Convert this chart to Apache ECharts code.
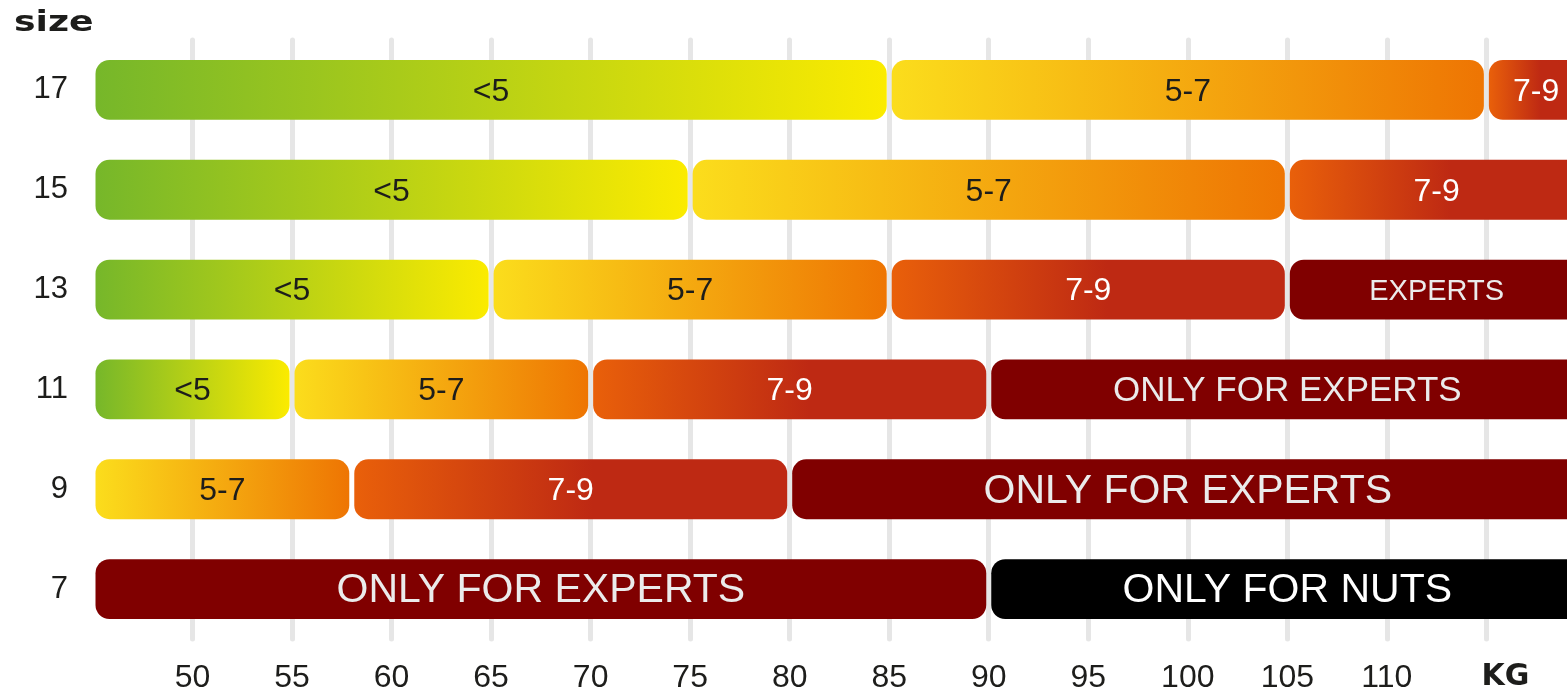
<!DOCTYPE html>
<html>
<head>
<meta charset="utf-8">
<script src="https://cdn.jsdelivr.net/npm/echarts@6/dist/echarts.min.js"></script>
<style>
html,body{margin:0;padding:0;background:#fff;}
#chart{width:1567px;height:694px;}
</style>
</head>
<body>
<div id="chart"></div>
<script>
// ---- data ----
const sizes = ['7', '9', '11', '13', '15', '17'];
const xTicks = [50, 55, 60, 65, 70, 75, 80, 85, 90, 95, 100, 105, 110, 115];
const unitLabel = 'KG';
const segSize  = ['17','17','17', '15','15','15', '13','13','13','13', '11','11','11','11', '9','9','9', '7','7'];
const segFrom  = [45, 85, 115,   45, 75, 105,   45, 65, 85, 105,   45, 55, 70, 90,   45, 58, 80,   45, 90];
const segTo    = [85, 115, 120,  75, 105, 120,  65, 85, 105, 120,  55, 70, 90, 120,  58, 80, 120,  90, 120];
const segLevel = ['<5','5-7','7-9', '<5','5-7','7-9', '<5','5-7','7-9','EXPERTS',
                  '<5','5-7','7-9','EXPERTS', '5-7','7-9','EXPERTS', 'EXPERTS','NUTS'];
const segText  = ['<5','5-7','7-9', '<5','5-7','7-9', '<5','5-7','7-9','EXPERTS',
                  '<5','5-7','7-9','ONLY FOR EXPERTS', '5-7','7-9','ONLY FOR EXPERTS',
                  'ONLY FOR EXPERTS','ONLY FOR NUTS'];

// ---- styles ----
const labelFont = [32,32,32, 32,32,32, 32,32,32,29, 32,32,32,35, 32,32,41, 41,41];
function lin(stops) {
  return { type: 'linear', x: 0, y: 0, x2: 1, y2: 0,
    colorStops: stops.map(s => ({ offset: s[0], color: s[1] })) };
}
const levelStyle = {
  '<5':      { fill: () => lin([[0, '#76b72a'], [1, '#fbeb00']]), text: '#1d1d1b' },
  '5-7':     { fill: () => lin([[0, '#fbdd1c'], [1, '#ee7503']]), text: '#1d1d1b' },
  '7-9':     { fill: () => lin([[0, '#e9600a'], [0.55, '#be2913'], [1, '#be2913']]), text: '#ffffff' },
  'EXPERTS': { fill: () => '#800000', text: '#ebebeb' },
  'NUTS':    { fill: () => '#000000', text: '#ffffff' }
};

const data = segSize.map((s, i) => [segFrom[i], sizes.indexOf(s), segTo[i], i]);

const chart = echarts.init(document.getElementById('chart'), null, { renderer: 'canvas' });
chart.setOption({
  animation: false,
  backgroundColor: '#ffffff',
  grid: { left: 93, right: 1, top: 40, bottom: 54, containLabel: false },
  xAxis: {
    type: 'value', min: 45, max: 119, interval: 5,
    axisLine: { show: false }, axisTick: { show: false },
    splitLine: { show: true, showMinLine: false, showMaxLine: false,
      lineStyle: { color: '#e6e6e6', width: 5, cap: 'round' } },
    axisLabel: {
      showMinLabel: false, showMaxLabel: false, margin: 23,
      color: '#1d1d1b', fontSize: 32, fontFamily: 'Liberation Sans, Arial, sans-serif',
      formatter: v => v === 115 ? '{kg|' + unitLabel + '}' : (xTicks.indexOf(v) >= 0 ? String(v) : ''),
      rich: { kg: { fontFamily: 'DejaVu Sans', fontWeight: 'bold', fontSize: 30, color: '#1d1d1b', padding: [0, 0, 0, 38] } }
    }
  },
  yAxis: {
    type: 'category', data: sizes,
    axisLine: { show: false }, axisTick: { show: false }, splitLine: { show: false },
    axisLabel: { margin: 25, color: '#1d1d1b', fontSize: 31, fontFamily: 'Liberation Sans, Arial, sans-serif' }
  },
  graphic: [{
    type: 'text', left: 14, top: 9, scaleX: 1.25,
    style: { text: 'size', fontFamily: 'DejaVu Sans', fontWeight: 'bold', fontSize: 29, fill: '#1d1d1b' }
  }],
  series: [{
    type: 'custom',
    clip: false,
    encode: { x: [0, 2], y: 1 },
    data: data,
    renderItem: function (params, api) {
      const cat = api.value(1);
      const i = api.value(3);
      const p0 = api.coord([api.value(0), cat]);
      const p1 = api.coord([api.value(2), cat]);
      const h = api.size([0, 1])[1] * 0.6;
      const gap = 2.5;
      const st = levelStyle[segLevel[i]];
      return {
        type: 'group',
        children: [{
          type: 'rect',
          shape: { x: p0[0] + gap, y: p0[1] - h / 2, width: p1[0] - p0[0] - 2 * gap, height: h, r: 14 },
          style: { fill: st.fill() }
        }, {
          type: 'text',
          x: (p0[0] + p1[0]) / 2, y: p0[1] + 2,
          style: { text: segText[i], fill: st.text, fontSize: labelFont[i],
            fontFamily: 'Liberation Sans, Arial, sans-serif', align: 'center', verticalAlign: 'middle' }
        }]
      };
    }
  }]
});
</script>
</body>
</html>
